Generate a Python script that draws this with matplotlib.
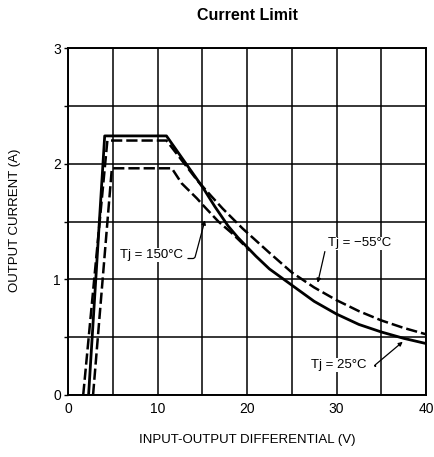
import numpy as np
import matplotlib
matplotlib.use("Agg")
import matplotlib.pyplot as plt

plt.rcParams['font.family'] = ['Liberation Sans', 'DejaVu Sans']

# Tj = 25 C (solid)
x_25 = [2.3, 4.1, 11.0, 13.0, 15.1, 16.4, 17.9, 19.0, 20.0, 21.0, 22.5, 25.0, 27.5, 30.0, 32.5, 35.0, 37.5, 40.0]
y_25 = [0.0, 2.24, 2.24, 2.02, 1.79, 1.63, 1.46, 1.36, 1.28, 1.20, 1.09, 0.95, 0.81, 0.70, 0.61, 0.545, 0.49, 0.445]

# Tj = -55 C (dashed)
x_m55 = [1.7, 4.4, 11.0, 13.0, 14.5, 16.0, 17.3, 19.5, 22.5, 25.0, 27.5, 30.0, 32.5, 35.0, 37.5, 40.0]
y_m55 = [0.0, 2.20, 2.20, 2.00, 1.85, 1.72, 1.61, 1.44, 1.23, 1.06, 0.93, 0.82, 0.725, 0.645, 0.58, 0.525]

# Tj = 150 C (dashed)
x_150 = [2.8, 4.9, 11.6, 12.7, 14.4, 15.1, 16.8, 18.3, 19.5, 20.3]
y_150 = [0.0, 1.96, 1.96, 1.83, 1.70, 1.64, 1.50, 1.40, 1.31, 1.25]

x_ticks = [0, 10, 20, 30, 40]
y_ticks = [0, 1, 2, 3]

fig = plt.figure(figsize=(4.34, 4.57), dpi=100)
ax = fig.add_axes([68 / 434, 1 - 395 / 457, (426 - 68) / 434, (395 - 48) / 457])

dash = (4.5, 1.6)
ax.plot(x_25, y_25, color='black', lw=2.0, solid_joinstyle='round')
ax.plot(x_m55, y_m55, color='black', lw=1.8, dashes=dash)
ax.plot(x_150, y_150, color='black', lw=1.8, dashes=dash)

ax.set_xlim(0, 40)
ax.set_ylim(0, 3)
ax.set_xticks(x_ticks)
ax.set_yticks(y_ticks)
ax.set_xticks(np.arange(0, 41, 5), minor=True)
ax.set_yticks(np.arange(0, 3.01, 0.5), minor=True)
ax.grid(which='both', color='black', lw=1.1)
ax.tick_params(axis='x', which='both', length=0, pad=5, labelsize=10)
ax.tick_params(axis='y', which='major', length=3, width=1, pad=2, labelsize=10)
ax.tick_params(axis='y', which='minor', length=3, width=1)
for s in ax.spines.values():
    s.set_linewidth(1.4)

fs = 9.5
ax.text(9.3, 1.21, "Tj = 150°C", fontsize=fs, ha='center', va='center',
        bbox=dict(facecolor='white', edgecolor='none', pad=0.5))
ax.annotate("", xy=(15.3, 1.51), xytext=(13.4, 1.18),
            arrowprops=dict(arrowstyle='-|>', lw=0.9, color='black', mutation_scale=6,
                            shrinkA=0, shrinkB=0,
                            connectionstyle='angle,angleA=0,angleB=75,rad=2'))

ax.text(32.6, 1.31, "Tj = \u221255°C", fontsize=fs, ha='center', va='center',
        bbox=dict(facecolor='white', edgecolor='none', pad=0.5))
ax.annotate("", xy=(27.9, 0.97), xytext=(28.7, 1.24),
            arrowprops=dict(arrowstyle='-|>', lw=0.9, color='black', mutation_scale=6,
                            shrinkA=0, shrinkB=0))

ax.text(30.2, 0.26, "Tj = 25°C", fontsize=fs, ha='center', va='center',
        bbox=dict(facecolor='white', edgecolor='none', pad=0.5))
ax.annotate("", xy=(37.4, 0.46), xytext=(34.3, 0.25),
            arrowprops=dict(arrowstyle='-|>', lw=0.9, color='black', mutation_scale=6,
                            shrinkA=0, shrinkB=0,
                            connectionstyle='angle,angleA=0,angleB=40,rad=2'))

fig.text(0.569, 1 - 15 / 457, "Current Limit", fontsize=11.5, fontweight='bold',
         ha='center', va='center')
fig.text(0.569, 1 - 440 / 457, "INPUT-OUTPUT DIFFERENTIAL (V)", fontsize=9.5,
         ha='center', va='center')
fig.text(15 / 434, 1 - 220 / 457, "OUTPUT CURRENT (A)", fontsize=9.5,
         ha='center', va='center', rotation=90)

fig.savefig("out.png", dpi=100)
